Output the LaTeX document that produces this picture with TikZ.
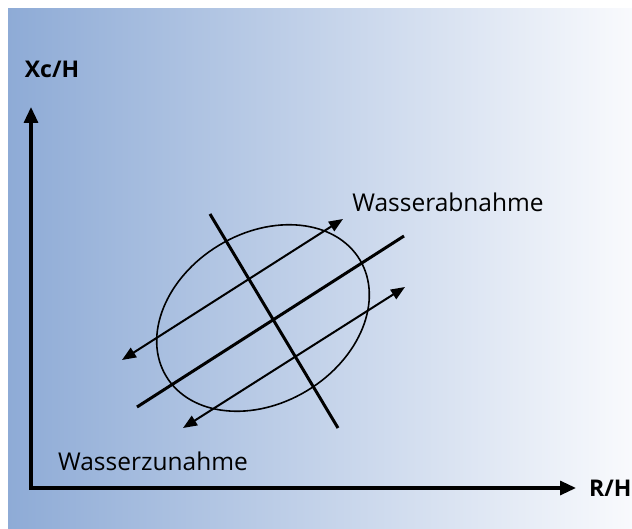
\documentclass[tikz,border=0pt]{standalone}
\usepackage{fontspec}
\setmainfont{Open Sans}
\usetikzlibrary{arrows.meta}
\definecolor{bgleft}{RGB}{142,171,214}
\definecolor{bgright}{RGB}{249,250,253}
\begin{document}
\begin{tikzpicture}[x=1pt,y=1pt,
  axis/.style={line width=3.2pt,line join=miter,
    {Triangle[length=16pt,width=14pt]}-{Triangle[length=16pt,width=14pt]}},
  dirarrow/.style={line width=2pt,
    {Triangle[length=14pt,width=11pt]}-{Triangle[length=14pt,width=11pt]}},
  bar/.style={line width=3pt},
  lbl/.style={font=\fontsize{24.5}{30}\selectfont,inner sep=0pt},
  axlbl/.style={font=\fontsize{23}{28}\selectfont\bfseries,inner sep=0pt}]
\useasboundingbox (0,0) rectangle (632,528);
%%% background
\shade[left color=bgleft,right color=bgright] (8,0) rectangle (632,519);
%%% axes
\coordinate (ytip) at (31,421);
\coordinate (xtip) at (576,40);
\draw[axis] (ytip) |- (xtip);
\node[axlbl] (ylabel) at (52,459) {Xc/H};
\node[axlbl,anchor=west] (xlabel) at (589,40) {R/H};
%%% ellipse and lines
\draw[line width=1.6pt,rotate around={31:(263,210)}] (263,210) ellipse [x radius=113,y radius=85];
\coordinate (a1) at (122,168);
\coordinate (a2) at (343,309);
\coordinate (m1) at (137,121);
\coordinate (m2) at (404,292);
\coordinate (b1) at (183,100);
\coordinate (b2) at (405,241);
\coordinate (c1) at (210,314);
\coordinate (c2) at (338,100);
\draw[dirarrow] (a1) -- (a2);
\draw[bar] (m1) -- (m2);
\draw[dirarrow] (b1) -- (b2);
\draw[bar] (c1) -- (c2);
\node[lbl] (abnahme) at (448,326) {Wasserabnahme};
\node[lbl] (zunahme) at (153,67) {Wasserzunahme};
\end{tikzpicture}
\end{document}
